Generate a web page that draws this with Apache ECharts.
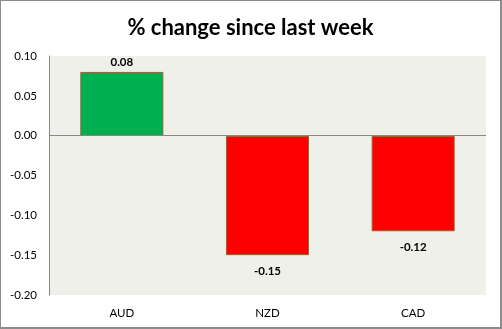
<!DOCTYPE html>
<html><head><meta charset="utf-8">
<script src="https://cdn.jsdelivr.net/npm/echarts@6/dist/echarts.min.js"></script>
<style>
html,body{margin:0;padding:0;background:#fff;}
#c{width:502px;height:329px;box-sizing:border-box;border-style:solid;border-color:#8c8c8c;border-width:1px 2px 2px 1px;}
</style></head>
<body><div id="c"></div>
<script>
var categories = ['AUD', 'NZD', 'CAD'];
var values = [0.08, -0.15, -0.12];
var barColors = ['#00B050', '#FF0000', '#FF0000'];
var yTicks = [-0.20, -0.15, -0.10, -0.05, 0.00, 0.05, 0.10];

var chart = echarts.init(document.getElementById('c'), null, {renderer: 'canvas'});
var font = 'Lato, "Open Sans", sans-serif';
chart.setOption({
  animation: false,
  title: {
    text: '% change since last week',
    left: 'center', top: 11,
    textStyle: {fontFamily: font, fontWeight: 'bold', fontSize: 22, color: '#000'}
  },
  grid: {
    left: 48, right: 14, top: 55, bottom: 32,
    show: true, backgroundColor: '#EEF0E9', borderWidth: 0
  },
  xAxis: {
    type: 'category', data: categories,
    axisLine: {show: false, onZero: false},
    axisTick: {show: false},
    axisLabel: {fontFamily: font, fontSize: 11.5, color: '#000', margin: 12}
  },
  yAxis: {
    type: 'value', min: yTicks[0], max: yTicks[yTicks.length - 1], interval: 0.05,
    axisLine: {show: true, lineStyle: {color: '#868686', width: 1}},
    axisTick: {show: false},
    splitLine: {show: false},
    axisLabel: {fontFamily: font, fontSize: 11.5, color: '#000', margin: 12,
      formatter: function (v) { return v.toFixed(2); }}
  },
  series: [{
    type: 'bar',
    barCategoryGap: '43%',
    data: values.map(function (v, i) {
      return {
        value: v,
        itemStyle: {color: barColors[i], borderColor: '#8B6A3A', borderWidth: 1},
        label: {position: v >= 0 ? 'top' : 'bottom', distance: v >= 0 ? 4 : 10}
      };
    }),
    label: {show: true, fontFamily: font, fontWeight: 'bold', fontSize: 11.5, color: '#000',
      formatter: function (p) { return p.value.toFixed(2); }},
    markLine: {
      silent: true, symbol: 'none', label: {show: false},
      lineStyle: {color: '#868686', width: 1, type: 'solid'},
      data: [{yAxis: 0}]
    }
  }]
});
</script></body></html>
